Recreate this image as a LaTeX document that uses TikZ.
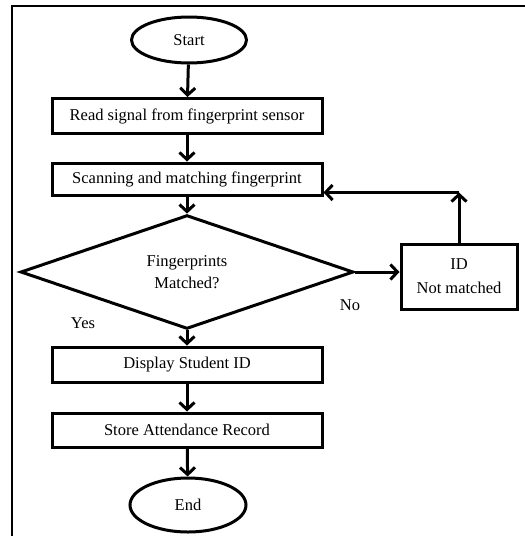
\documentclass[tikz,border=0pt]{standalone}
\usepackage{fontspec}
\setmainfont{Liberation Serif}
\usepackage{tikz}
\usetikzlibrary{shapes.geometric, arrows.meta}

\tikzset{
  flowbox/.style={draw, line width=3pt, inner sep=0pt, minimum width=270pt},
  terminal/.style={draw, ellipse, line width=3pt, inner sep=0pt},
  decision/.style={draw, diamond, line width=3pt, inner sep=0pt, align=center},
  flowarrow/.style={line width=3pt, -{Straight Barb[length=7pt,width=15pt,line width=3pt]}},
  every node/.style={font=\fontsize{16.5}{22}\selectfont}
}

\begin{document}
\begin{tikzpicture}[x=1pt, y=-1pt]
\useasboundingbox (0,0) rectangle (525,536);
% frame
\draw[line width=2.5pt] (12,536) -- (12,6) -- (525,6);

% nodes
\node[terminal, minimum width=115pt, minimum height=46pt] (start) at (189,40) {Start};
\node[flowbox, minimum height=35pt] (read) at (187,116) {Read signal from fingerprint sensor};
\node[flowbox, minimum height=32pt] (scan) at (187,179) {Scanning and matching fingerprint};
\node[decision, minimum width=333pt, minimum height=87pt] (match) at (187,272) {Fingerprints\\Matched?};
\node[flowbox, minimum width=116pt, minimum height=65pt, align=center] (notmatch) at (459,276.5) {ID\\[2pt]Not matched};
\node[flowbox, minimum height=35pt] (display) at (187,364.5) {Display Student ID};
\node[flowbox, minimum height=34pt] (store) at (187,430) {Store Attendance Record};
\node[terminal, minimum width=116pt, minimum height=54pt] (end) at (188,505) {End};

% labels
\node (no) at (350,305) {No};
\node (yes) at (83,323) {Yes};

% connectors
\draw[flowarrow] (start) -- (read);
\draw[flowarrow] (read) -- (scan);
\draw[flowarrow] (scan) -- (match);
\draw[flowarrow] (match.east) -- (match.east -| notmatch.west);
\draw[flowarrow] (notmatch.north) -- ++(0,-50) coordinate (turn);
\draw[flowarrow] (turn) -- (turn -| scan.east);
\draw[flowarrow] (match) -- (display);
\draw[flowarrow] (display) -- (store);
\draw[flowarrow] (store) -- (end);
\end{tikzpicture}
\end{document}
